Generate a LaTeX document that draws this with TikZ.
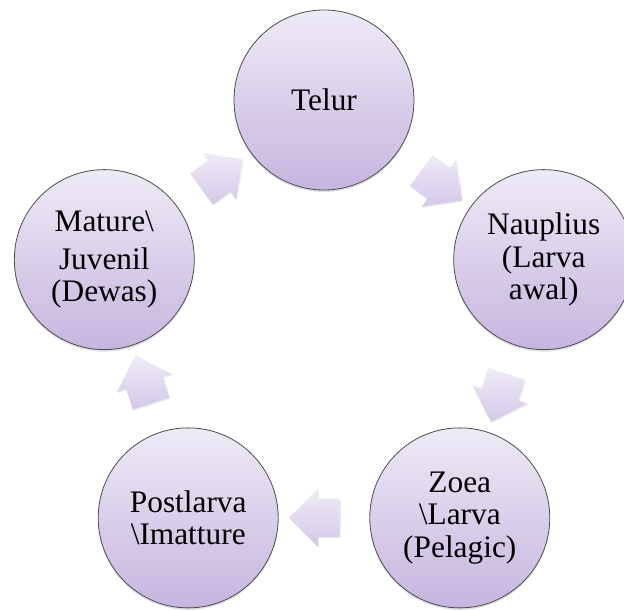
\documentclass[tikz,border=0pt]{standalone}
\usepackage{fontspec}
\setmainfont{Liberation Serif}
\usetikzlibrary{shapes.arrows,shadows,calc}
\definecolor{stagetop}{HTML}{EEEAF6}
\definecolor{stagebot}{HTML}{C6B5DE}
\definecolor{arrowtop}{HTML}{EFEBF7}
\definecolor{arrowbot}{HTML}{D3C8E8}
\tikzset{
  stage/.style={circle, draw=black!70, line width=0.6pt, minimum size=135pt, inner sep=0pt, align=center,
    top color=stagetop, bottom color=stagebot, font=\fontsize{23.5}{24.5}\selectfont,
    drop shadow={opacity=0.25, shadow xshift=0pt, shadow yshift=-1.5pt}},
  cyclearrow/.style={single arrow, minimum height=38pt, minimum width=43pt, single arrow head extend=7.25pt,
    single arrow tip angle=90, inner xsep=0pt, inner ysep=14.25pt, top color=arrowtop, bottom color=arrowbot,
    drop shadow={opacity=0.15, shadow xshift=0.8pt, shadow yshift=-0.8pt}}
}
\begin{document}
\begin{tikzpicture}
  \useasboundingbox (-243pt,-209.25pt) rectangle (225pt,248.25pt);
  \node[stage] (telur) at (90:173.25pt) {Telur};
  \node[stage] (nauplius) at (18:173.25pt) {Nauplius\\(Larva\\awal)};
  \node[stage] (zoea) at (-54:173.25pt) {Zoea\\\textbackslash Larva\\(Pelagic)};
  \node[stage] (postlarva) at (-126:173.25pt) {Postlarva\\\textbackslash Imatture};
  \node[stage] (mature) at (162:173.25pt) {Mature\textbackslash\\[4pt]Juvenil\\(Dewas)};

  % arrows between the stages
  \foreach \from/\to/\ang in {telur/nauplius/-36, nauplius/zoea/-108, zoea/postlarva/180,
                              postlarva/mature/108, mature/telur/36}
    \node[cyclearrow, rotate=\ang] (\from-\to) at ($(\from)!0.5!(\to)$) {};
\end{tikzpicture}
\end{document}
